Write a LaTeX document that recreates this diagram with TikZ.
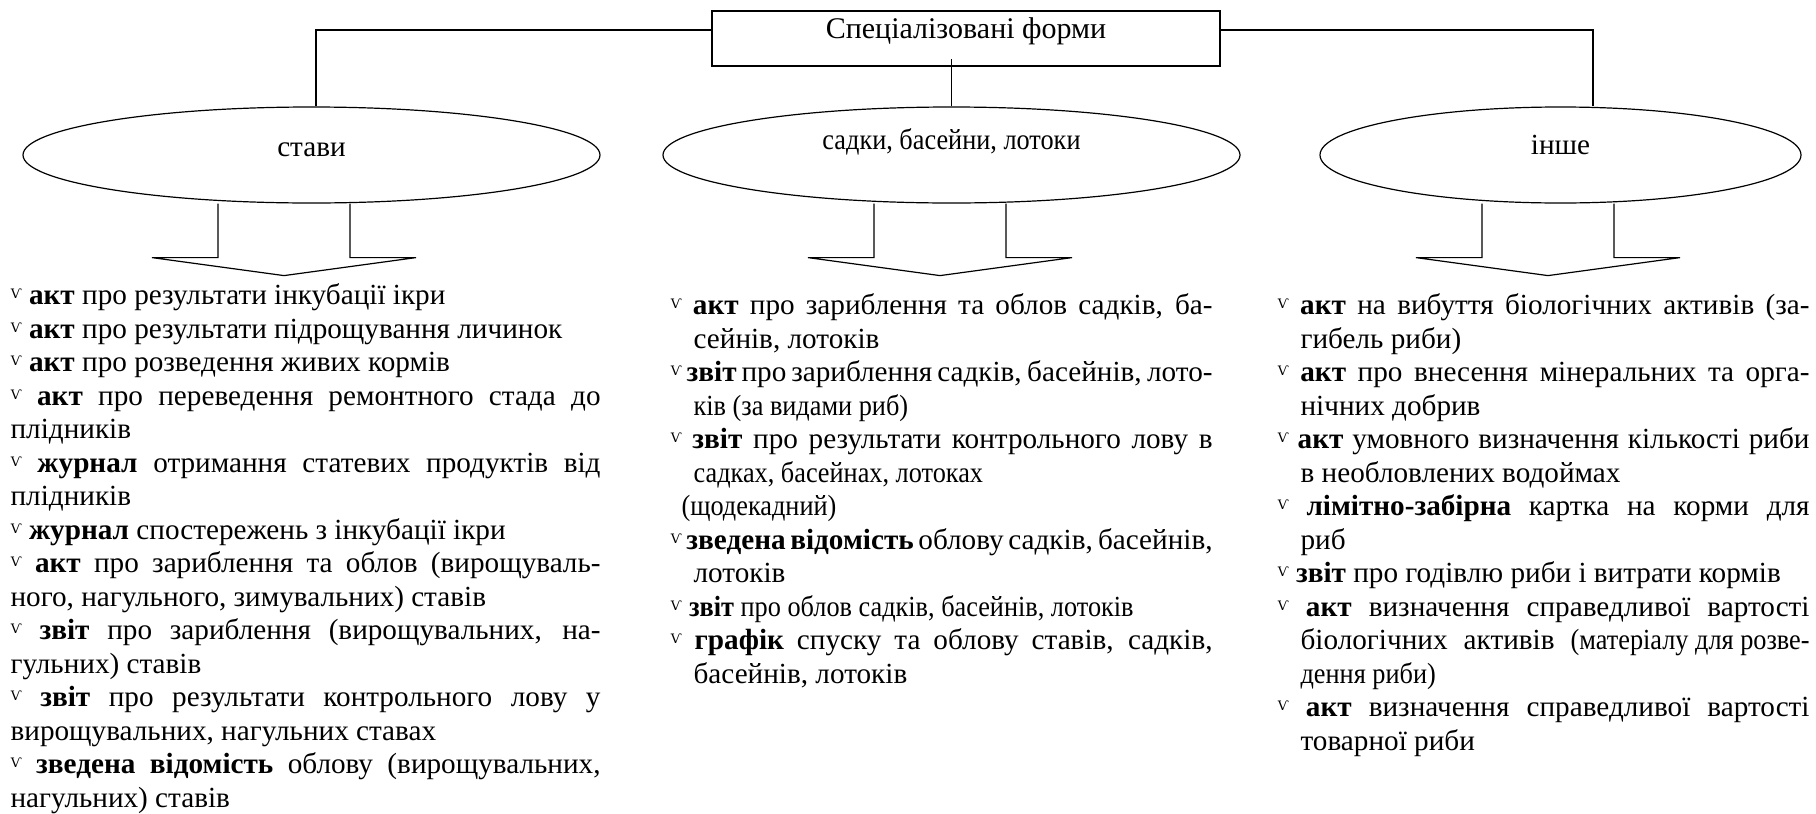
\documentclass[tikz,border=0pt]{standalone}
\usepackage{fontspec}
\setmainfont{Liberation Serif}
\newfontfamily\tickfont{DejaVu Serif}
\usepackage{graphicx}
\usepackage{tikz}
\usetikzlibrary{positioning, shapes.geometric, calc}

\setlength{\parindent}{0pt}
\hyphenpenalty=10000
\exhyphenpenalty=10000
\tolerance=9999

\newcommand{\tick}{\leavevmode\raisebox{3pt}{\tickfont\fontsize{6.5}{6.5}\selectfont Ѵ}\ }
\newcommand{\narrow}[1]{\scalebox{0.9}[1]{#1}}
\newcommand{\hang}{\hangindent=11.5pt\hangafter=1\relax}
\newcommand{\listfont}{\fontsize{14.6}{16.75}\selectfont\spaceskip=0.25em plus 0.4em minus 0.15em\relax}

\begin{document}
\begin{tikzpicture}[
    x=0.5pt, y=-0.5pt,
    font=\fontsize{14.6}{16.75}\selectfont,
    line width=0.6pt,
    head/.style={
        rectangle,
        draw,
        minimum width=254pt,
        inner sep=0pt,
        text height=13.5pt,
        text depth=14pt
    },
    kind/.style={
        ellipse,
        draw,
        minimum height=48pt,
        inner sep=0pt
    },
    list/.style={
        anchor=north west,
        inner sep=0pt,
        align=justify,
        font=\listfont
    },
    link/.style={line width=0.6pt},
    blockarrow/.style={line width=0.6pt, line join=miter}
]

\useasboundingbox (0,0) rectangle (1816,814);

\def\ye{155}

% Forms
\node[head, font=\fontsize{15}{16.75}\selectfont] (forms) at (966, 38.5) {Спеціалізовані форми};
\node[kind, minimum width=288.5pt, text height=10pt, text depth=8.6pt] (ponds) at (311.5, \ye) {стави};
\node[kind, minimum width=288.5pt, text height=8pt, text depth=13.6pt] (cages) at (951.5, \ye) {\narrow{садки, басейни, лотоки}};
\node[kind, minimum width=240.5pt, text height=10pt, text depth=10.6pt] (other) at (1560.5, \ye) {інше};

% Links
\draw[link] ([yshift=4.25pt]forms.west) -| ([xshift=2.25pt]ponds.north);
\draw[link] ([yshift=4.25pt]forms.east) -| ([xshift=16.25pt]other.north);
\draw[link] (cages.north) -- ($(cages.north |- forms.south)+(0,-8)$);

% Block arrows
\draw[blockarrow, shift={(ponds.south)}] (-93.5,0) -- (-93.5,54) -- (-159.5,54) -- (-27.5,72) -- (104.5,54) -- (38.5,54) -- (38.5,0);
\draw[blockarrow, shift={(cages.south)}] (-77.5,0) -- (-77.5,54) -- (-143.5,54) -- (-11.5,72) -- (120.5,54) -- (54.5,54) -- (54.5,0);
\draw[blockarrow, shift={(other.south)}] (-78.5,0) -- (-78.5,54) -- (-144.5,54) -- (-12.5,72) -- (119.5,54) -- (53.5,54) -- (53.5,0);

% Documents
\node[list, text width=295pt] (pondlist) at (10, 280.6) {%
\tick\strut\textbf{акт} про результати інкубації ікри\par
\tick\textbf{акт} про результати підрощування личинок\par
\tick\textbf{акт} про розведення живих кормів\par
\tick \textbf{акт} про переведення ремонтного стада до\linebreak плідників\par
\tick \textbf{журнал} отримання статевих продуктів від\linebreak плідників\par
\tick\textbf{журнал} спостережень з інкубації ікри\par
\tick \textbf{акт} про зариблення та облов (вирощуваль-\linebreak ного, нагульного, зимувальних) ставів\par
\tick \textbf{звіт} про зариблення (вирощувальних, на-\linebreak гульних) ставів\par
\tick \textbf{звіт} про результати контрольного лову у\linebreak вирощувальних, нагульних ставах\par
\tick \textbf{зведена відомість} облову (вирощувальних,\linebreak нагульних) ставів\par};

\node[list, text width=271pt] (cagelist) at (670, 290.6) {%
\hang\tick\strut\textbf{акт} про зариблення та облов садків, ба-\linebreak сейнів, лотоків\par
\hang\tick\textbf{звіт} про зариблення садків, басейнів, лото-\linebreak \narrow{ків (за видами риб)}\par
\hang\tick \textbf{звіт} про результати контрольного лову в\linebreak \narrow{садках, басейнах, лотоках}\\\hspace*{-6pt}\narrow{(щодекадний)}\par
\hang\tick \textbf{зведена відомість} облову садків, басейнів,\linebreak лотоків\par
\hang\tick\narrow{\textbf{звіт} про облов садків, басейнів, лотоків}\par
\hang\tick \textbf{графік} спуску та облову ставів, садків,\linebreak басейнів, лотоків\par};

\node[list, text width=266pt] (otherlist) at (1277, 290.6) {%
\hang\tick\strut\textbf{акт} на вибуття біологічних активів (за-\linebreak гибель риби)\par
\hang\tick \textbf{акт} про внесення мінеральних та орга-\linebreak нічних добрив\par
\hang\tick\textbf{акт} умовного визначення кількості риби\linebreak в необловлених водоймах\par
\hang\tick \textbf{лімітно-забірна} картка на корми для\linebreak риб\par
\hang\tick\textbf{звіт} про годівлю риби і витрати кормів\par
\hang\tick \textbf{акт} визначення справедливої вартості\linebreak біологічних активів \narrow{(матеріалу для розве-}\linebreak \narrow{дення риби)}\par
\hang\tick \textbf{акт} визначення справедливої вартості\linebreak товарної риби\par};

\end{tikzpicture}
\end{document}
